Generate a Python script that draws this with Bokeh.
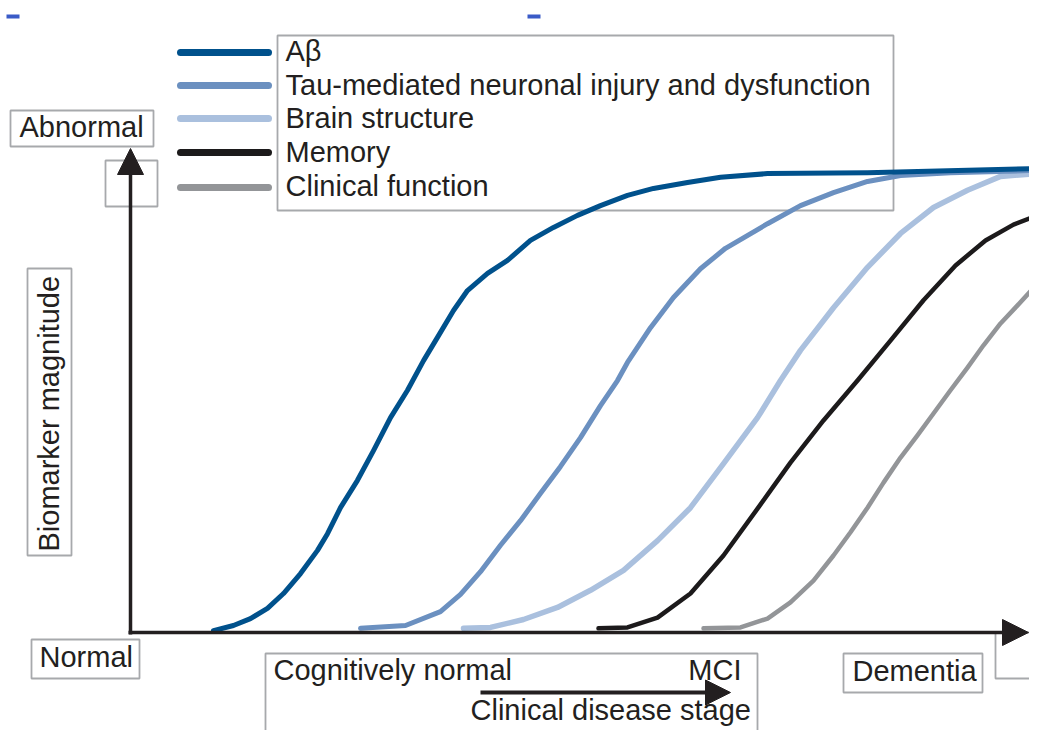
from bokeh.plotting import figure
from bokeh.models import Range1d, Label, Arrow, NormalHead
from bokeh.embed import file_html
from bokeh.resources import INLINE

# ---------------- data (stage 0..100, biomarker magnitude 0..1) ----------------
series = ["Aβ", "Tau-mediated neuronal injury and dysfunction", "Brain structure",
          "Memory", "Clinical function"]
colors = ["#00518c", "#6b90c0", "#aac0de", "#1c1a1b", "#939598"]
widths = [5, 5, 5.5, 4.5, 4.5]

ab_x = [9.22, 11.44, 13.33, 15.22, 17.0, 18.89, 20.78, 21.89, 23.33, 25.22, 27.0, 28.89,
        30.78, 32.56, 34.11, 35.89, 37.44, 39.67, 41.89, 44.44, 47.0, 49.67, 52.22,
        55.22, 58.11, 61.89, 65.56, 70.78, 81.89, 100.78]
ab_y = [0.004, 0.015, 0.030, 0.052, 0.084, 0.127, 0.177, 0.213, 0.269, 0.328, 0.392,
        0.463, 0.522, 0.586, 0.636, 0.694, 0.737, 0.774, 0.802, 0.845, 0.873, 0.899,
        0.920, 0.942, 0.957, 0.970, 0.981, 0.989, 0.991, 1.0]

tau_x = [25.56, 30.56, 34.44, 36.67, 38.89, 41.11, 43.33, 45.56, 47.78, 50.0, 52.22,
         54.11, 55.22, 57.78, 60.33, 63.33, 66.11, 70.78, 74.44, 78.11, 81.89, 85.56,
         91.11, 100.78]
tau_y = [0.009, 0.015, 0.045, 0.082, 0.131, 0.188, 0.241, 0.300, 0.358, 0.420, 0.489,
         0.543, 0.582, 0.657, 0.722, 0.784, 0.828, 0.881, 0.920, 0.948, 0.972, 0.985,
         0.991, 0.996]

brain_x = [37.0, 40.0, 43.67, 47.44, 51.11, 54.78, 58.56, 62.22, 65.89, 69.67, 72.22,
           74.44, 78.11, 81.89, 85.56, 89.22, 93.0, 96.67, 100.78]
brain_y = [0.009, 0.011, 0.028, 0.054, 0.091, 0.134, 0.198, 0.269, 0.364, 0.463, 0.543,
           0.608, 0.700, 0.787, 0.860, 0.916, 0.953, 0.983, 0.989]

mem_x = [52.0, 55.22, 58.56, 62.22, 65.89, 69.67, 73.33, 77.0, 80.78, 84.44, 88.11,
         91.67, 95.0, 98.11, 100.78]
mem_y = [0.009, 0.011, 0.032, 0.084, 0.166, 0.267, 0.366, 0.457, 0.543, 0.629, 0.716,
         0.791, 0.845, 0.879, 0.899]

clin_x = [63.67, 67.78, 70.78, 73.33, 75.89, 78.11, 80.0, 81.89, 83.67, 85.56, 87.44,
          89.22, 91.11, 93.0, 94.78, 96.67, 98.56, 100.78]
clin_y = [0.009, 0.011, 0.030, 0.065, 0.112, 0.166, 0.216, 0.269, 0.323, 0.377, 0.425,
          0.472, 0.522, 0.571, 0.619, 0.666, 0.705, 0.752]

y_top_label = "Abnormal"
y_bottom_label = "Normal"
y_title = "Biomarker magnitude"
stage_labels = ["Cognitively normal", "MCI", "Dementia"]
x_title = "Clinical disease stage"

# ---------------- layout helpers (reference pixel -> data units) ----------------
def X(px):
    return (px - 130) / 9.0

def Y(py):
    return (632 - py) / 464.0

FONT = "Liberation Sans"
FSIZE = "29px"
TCOL = "#231f20"
BOXCOL = "#a7a9ac"
TXT_SHIFT = 12  # empirical correction of the rendered text baseline

p = figure(width=1029, height=730, x_range=Range1d(X(0), X(1029)),
           y_range=Range1d(Y(730), Y(0)), output_backend="svg",
           toolbar_location=None, min_border=0,
           x_axis_location=None, y_axis_location=None)
p.outline_line_color = None
p.xgrid.visible = False
p.ygrid.visible = False
p.background_fill_color = "white"
p.border_fill_color = "white"

# small blue dashes at top
p.quad(left=[X(6), X(527)], right=[X(19), X(540)], top=[Y(14), Y(14)],
       bottom=[Y(18), Y(18)], fill_color="#3a5bc7", line_color=None)

# boxes (no fill, gray border)
def box(l, r, t, b):
    p.quad(left=X(l), right=X(r), top=Y(t), bottom=Y(b), fill_color=None,
           line_color=BOXCOL, line_width=1.8)

box(277, 893, 35, 210)     # legend box
box(10, 153, 110, 146)     # Abnormal
box(105, 157, 160, 206)    # around arrow head
box(27, 71, 268, 555)      # Biomarker magnitude
box(31, 139, 639, 678)     # Normal
box(265, 757, 653, 760)    # stages box
box(843, 982, 653, 692)    # Dementia
box(995, 1060, 632, 678)   # right edge box

# curves
xs = [ab_x, tau_x, brain_x, mem_x, clin_x]
ys = [ab_y, tau_y, brain_y, mem_y, clin_y]
for i in reversed(range(5)):
    p.line(xs[i], ys[i], line_color=colors[i], line_width=widths[i],
           line_join="round", line_cap="round")

# axes with arrows
p.add_layout(Arrow(x_start=X(128), y_start=0, x_end=X(1028), y_end=0,
                   line_color=TCOL, line_width=3.5,
                   end=NormalHead(size=26, fill_color=TCOL, line_color=TCOL)))
p.add_layout(Arrow(x_start=0, y_start=Y(634), x_end=0, y_end=Y(148),
                   line_color=TCOL, line_width=3.5,
                   end=NormalHead(size=26, fill_color=TCOL, line_color=TCOL)))
p.add_layout(Arrow(x_start=X(480), y_start=Y(692), x_end=X(730), y_end=Y(692),
                   line_color=TCOL, line_width=4,
                   end=NormalHead(size=25, fill_color=TCOL, line_color=TCOL)))

# legend
leg_line_y = [52, 85, 118, 152, 187]
leg_base_y = [62, 96, 129, 163, 197]
for i in range(5):
    p.line([X(180), X(268)], [Y(leg_line_y[i])] * 2, line_color=colors[i],
           line_width=7, line_cap="round")
    p.add_layout(Label(x=X(285), y=Y(leg_base_y[i] - TXT_SHIFT), text=series[i],
                       text_font=FONT, text_font_size=FSIZE, text_color=TCOL,
                       text_baseline="alphabetic", text_align="left"))

def label(txt, px, py, align="left", angle=0.0):
    if angle:
        px = px - TXT_SHIFT
    else:
        py = py - TXT_SHIFT
    p.add_layout(Label(x=X(px), y=Y(py), text=txt, text_font=FONT, text_font_size=FSIZE,
                       text_color=TCOL, text_baseline="alphabetic", text_align=align,
                       angle=angle))

label(y_top_label, 19, 138)
label(y_bottom_label, 39, 668)
label(y_title, 60, 551, angle=1.5707963)
label(stage_labels[0], 273, 681)
label(stage_labels[1], 741, 681, align="right")
label(stage_labels[2], 852, 682)
label(x_title, 470, 721)

open("out.html", "w").write(file_html(p, INLINE))
